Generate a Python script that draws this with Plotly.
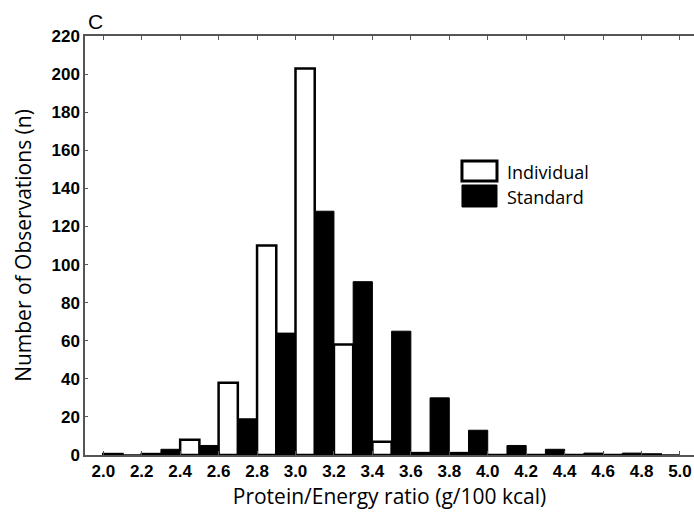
import plotly.graph_objects as go

# Histogram bins of protein/energy ratio (lower edge of each 0.2-wide bin)
bin_start = [2.0, 2.2, 2.4, 2.6, 2.8, 3.0, 3.2, 3.4, 3.6, 3.8, 4.0, 4.2, 4.4, 4.6, 4.8]
individual = [0.5, 0.5, 8, 38, 110, 203, 58, 7, 1, 1, 0, 0, 0, 0, 0.3]
standard = [0, 3, 5, 19, 64, 128, 91, 65, 30, 13, 5, 3, 1, 1, 0]

x_ticks = [2.0, 2.2, 2.4, 2.6, 2.8, 3.0, 3.2, 3.4, 3.6, 3.8, 4.0, 4.2, 4.4, 4.6, 4.8, 5.0]
y_ticks = [0, 20, 40, 60, 80, 100, 120, 140, 160, 180, 200, 220]

half = 0.1  # each series occupies half of a bin

fig = go.Figure()
fig.add_trace(go.Bar(
    x=bin_start, y=individual, width=half, offset=0,
    marker=dict(color="white", line=dict(color="black", width=2.5)),
    name="Individual", showlegend=False,
))
fig.add_trace(go.Bar(
    x=bin_start, y=standard, width=half, offset=half,
    marker=dict(color="black", line=dict(color="black", width=1)),
    name="Standard", showlegend=False,
))

tick_font = dict(family="Liberation Sans, Arial, sans-serif", size=17, color="black", weight="bold")
title_font = dict(family="Open Sans, sans-serif", size=21, color="black")

fig.update_layout(
    width=694, height=522,
    margin=dict(l=85, r=0, t=36, b=67),
    paper_bgcolor="white", plot_bgcolor="white",
    barmode="overlay",
    xaxis=dict(
        range=[1.905, 5.073],
        tickvals=x_ticks, ticktext=[f"{v:.1f}" for v in x_ticks],
        tickfont=tick_font, ticks="inside", ticklen=4, tickcolor="#555",
        showline=True, linecolor="#555", linewidth=1.5, mirror="ticks",
        showgrid=False, zeroline=False,
        title=dict(text="Protein/Energy ratio (g/100 kcal)", font=title_font, standoff=9),
    ),
    yaxis=dict(
        range=[0, 220],
        tickvals=y_ticks, tickfont=tick_font,
        ticks="inside", ticklen=3, tickcolor="#555",
        showline=True, linecolor="#555", linewidth=1.5,
        showgrid=False, zeroline=False,
        title=dict(text="Number of Observations (n)", font=title_font, standoff=14),
    ),
    font=dict(family="Liberation Sans, Arial, sans-serif", color="black"),
)

# Panel letter
fig.add_annotation(
    text="C", xref="paper", yref="paper", x=0.0, y=1.0,
    xanchor="left", yanchor="bottom", yshift=1, xshift=1, showarrow=False,
    font=dict(family="Liberation Sans, Arial, sans-serif", size=21, color="black"),
)

# Legend keys and labels
legend_items = [("Individual", "white", 3), ("Standard", "black", 1)]
key_x0, key_x1 = 0.619, 0.6765
key_boxes = [(0.654, 0.7017), (0.5919, 0.6444)]
label_y = [0.6754, 0.6158]
for (label, fill, lw), (y0, y1), ly in zip(legend_items, key_boxes, label_y):
    fig.add_shape(
        type="rect", xref="paper", yref="paper",
        x0=key_x0, x1=key_x1, y0=y0, y1=y1,
        fillcolor=fill, line=dict(color="black", width=lw),
    )
    fig.add_annotation(
        text=label, xref="paper", yref="paper", x=0.6897, y=ly,
        xanchor="left", yanchor="middle", showarrow=False,
        font=dict(family="Open Sans, sans-serif", size=18, color="black"),
    )

fig.write_html("out.html")
